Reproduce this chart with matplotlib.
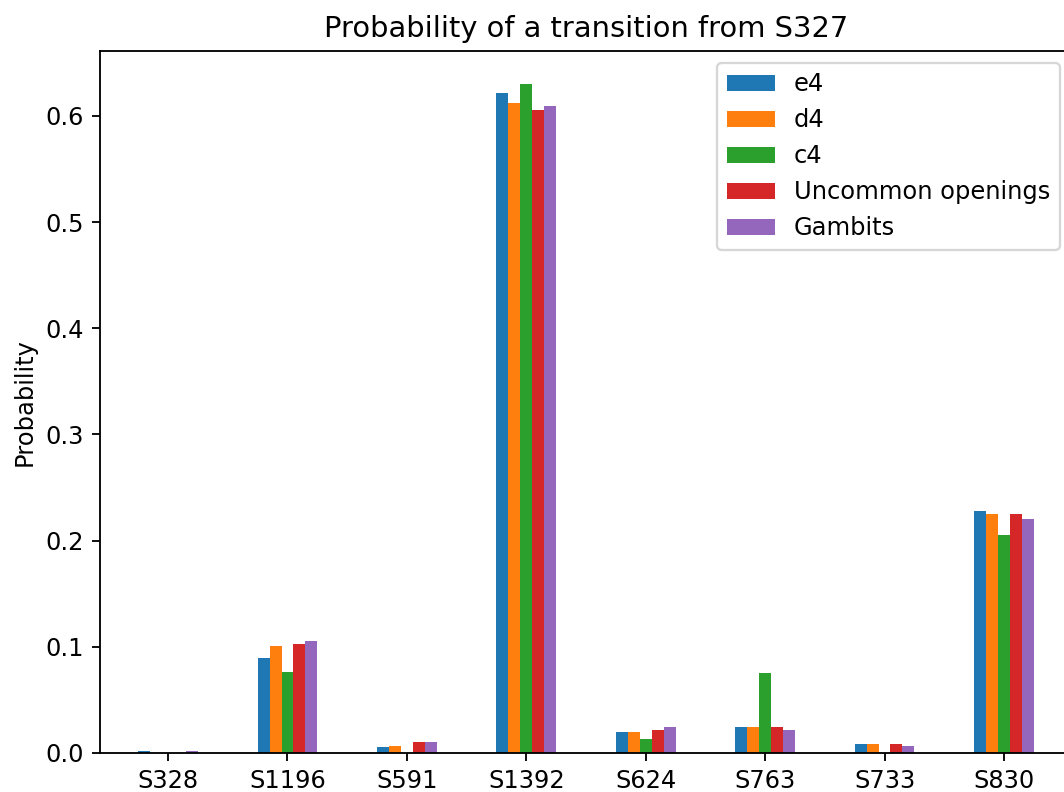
import matplotlib
matplotlib.use("Agg")
import matplotlib.pyplot as plt
import numpy as np

categories = ["S328", "S1196", "S591", "S1392", "S624", "S763", "S733", "S830"]
series_names = ["e4", "d4", "c4", "Uncommon openings", "Gambits"]
e4 = [0.0019, 0.0893, 0.0053, 0.6217, 0.0201, 0.0248, 0.0085, 0.2280]
d4 = [0.0, 0.1010, 0.0069, 0.6120, 0.0201, 0.0248, 0.0085, 0.2250]
c4 = [0.0, 0.0761, 0.0, 0.6300, 0.0132, 0.0758, 0.0, 0.2057]
uncommon = [0.0, 0.1025, 0.0104, 0.6060, 0.0217, 0.0248, 0.0085, 0.2255]
gambits = [0.0019, 0.1057, 0.0104, 0.6090, 0.0248, 0.0217, 0.0066, 0.2205]
series = [e4, d4, c4, uncommon, gambits]
colors = ["#1f77b4", "#ff7f0e", "#2ca02c", "#d62728", "#9467bd"]

plt.rcParams["font.size"] = 10.5

dpi = 165
fig = plt.figure(figsize=(1064 / dpi, 792 / dpi), dpi=dpi)
ax = fig.add_axes([100 / 1064, 39 / 792, 972 / 1064, 702.3 / 792])

x = np.arange(len(categories))
bw = 0.1
for i, (vals, name, c) in enumerate(zip(series, series_names, colors)):
    ax.bar(x + (i - 2) * bw, vals, width=bw, color=c, label=name)

ax.set_xticks(x)
ax.set_xticklabels(categories)
ax.set_xlim(-0.57, 7.57)
ax.set_ylabel("Probability")
ax.set_title("Probability of a transition from S327")
ax.legend(loc="upper right")

fig.savefig("out.png", dpi=dpi)
